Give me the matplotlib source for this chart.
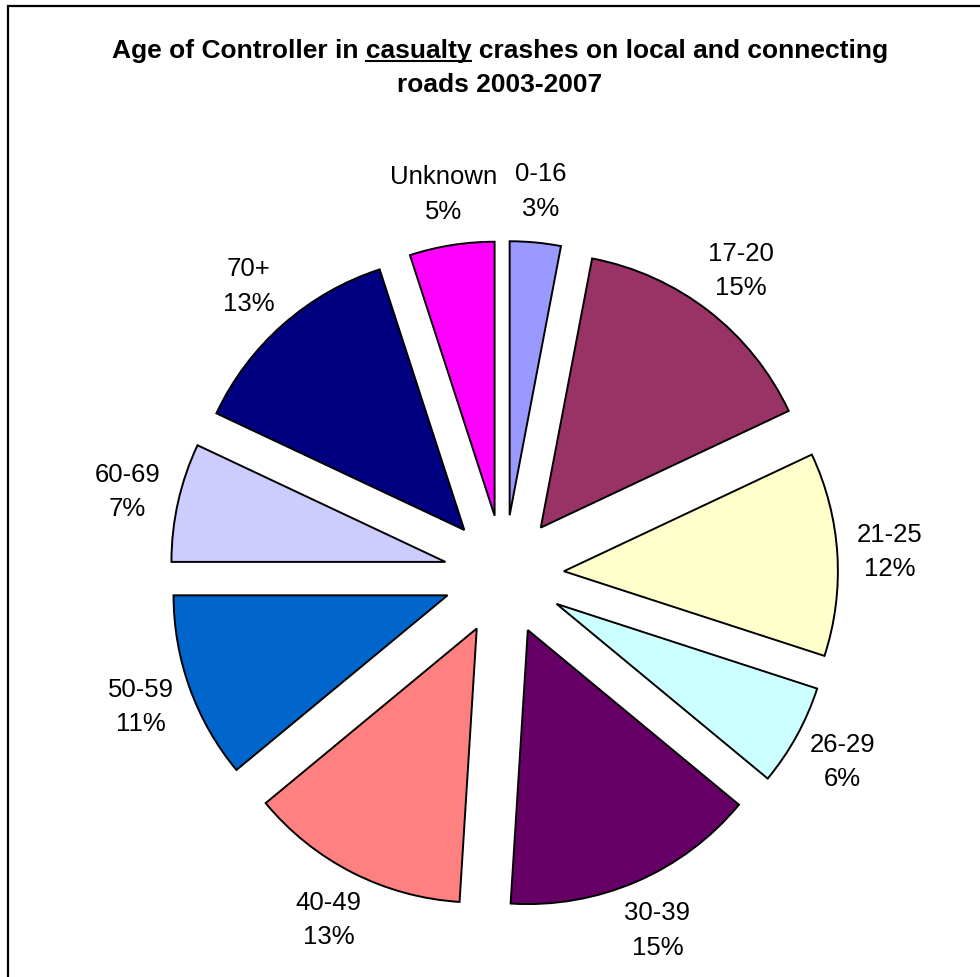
import matplotlib
matplotlib.use("Agg")
import matplotlib.pyplot as plt
from matplotlib.patches import Rectangle
from matplotlib.lines import Line2D

plt.rcParams['font.family'] = ['Liberation Sans', 'DejaVu Sans']

# Crash shares by age of controller (%)
age_groups = ["0-16", "17-20", "21-25", "26-29", "30-39",
              "40-49", "50-59", "60-69", "70+", "Unknown"]
shares = [3, 15, 12, 6, 15, 13, 11, 7, 13, 5]
colors = ["#9999FF", "#993366", "#FFFFCC", "#CCFFFF", "#660066",
          "#FF8080", "#0066CC", "#CCCCFF", "#000080", "#FF00FF"]

W, H = 980, 978
fig = plt.figure(figsize=(W / 100, H / 100), dpi=100)
ax = fig.add_axes([0, 0, 1, 1])

cx, cy, r = 504, H - 576, 274
explode_px = 60          # offset of each wedge, in data (pixel) units
label_dist = 1.19

labels = [f"{g}\n{s}%" for g, s in zip(age_groups, shares)]
ax.pie(shares, explode=[explode_px] * len(shares), colors=colors,
       labels=labels, labeldistance=label_dist,
       startangle=90, counterclock=False,
       center=(cx, cy), radius=r, frame=True,
       wedgeprops=dict(edgecolor='black', linewidth=1.4),
       textprops=dict(fontsize=18.5, ha='center', va='center',
                      linespacing=1.55, color='black'))
ax.set_xlim(0, W)
ax.set_ylim(0, H)
ax.set_aspect('equal')
ax.axis('off')

# outer frame
fig.patches.append(Rectangle((8 / W, -0.01), 1.05, (H - 7) / H + 0.01,
                             transform=fig.transFigure, fill=False,
                             edgecolor='black', linewidth=1.6))

# title, with the word "casualty" underlined
line1 = "Age of Controller in casualty crashes on local and connecting"
line2 = "roads 2003-2007"
tx = 500 / W
tkw = dict(fontsize=19, fontweight='bold', ha='center', va='baseline')
t1 = fig.text(tx, 1 - 58 / H, line1, **tkw)
fig.text(tx, 1 - 92 / H, line2, **tkw)

fig.canvas.draw()
rend = fig.canvas.get_renderer()
bb = t1.get_window_extent(rend)
probe = fig.text(0, 0, "Age of Controller in casualty", fontsize=19, fontweight='bold')
w_prefix = probe.get_window_extent(rend).width
probe.set_text("casualty")
w_word = probe.get_window_extent(rend).width
probe.remove()
x_end = bb.x0 + w_prefix
x_start = x_end - w_word
y_ul = H - 62
fig.add_artist(Line2D([x_start / W, x_end / W], [y_ul / H, y_ul / H],
                      transform=fig.transFigure, color='black', linewidth=1.5))

fig.savefig("out.png", dpi=100)
